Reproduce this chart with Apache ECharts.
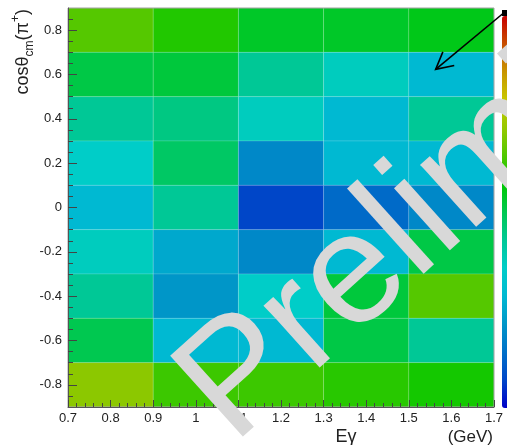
<!DOCTYPE html>
<html>
<head>
<meta charset="utf-8">
<script src="https://cdn.jsdelivr.net/npm/echarts@6/dist/echarts.min.js"></script>
<style>
  html, body { margin: 0; padding: 0; background: #ffffff; }
  #chart { width: 507px; height: 445px; }
</style>
</head>
<body>
<div id="chart"></div>
<script>
// Photon energy bin centres (GeV) and bin width
const eBins = [0.8, 1.0, 1.2, 1.4, 1.6];
const eBinWidth = 0.2;

// cos(theta_cm) bin centres, top row first, and bin width
const cosBins = [0.8, 0.6, 0.4, 0.2, 0.0, -0.2, -0.4, -0.6, -0.8];
const cosBinWidth = 0.2;

// Cell contents, one row per cosBins entry, one value per eBins entry
const row_p08 = [0.648, 0.601, 0.536, 0.536, 0.550];
const row_p06 = [0.509, 0.518, 0.429, 0.371, 0.286];
const row_p04 = [0.429, 0.449, 0.371, 0.286, 0.429];
const row_p02 = [0.357, 0.480, 0.188, 0.286, 0.286];
const row_000 = [0.286, 0.429, 0.071, 0.132, 0.188];
const row_m02 = [0.371, 0.251, 0.188, 0.286, 0.509];
const row_m04 = [0.429, 0.214, 0.357, 0.518, 0.648];
const row_m06 = [0.500, 0.286, 0.286, 0.509, 0.429];
const row_m08 = [0.704, 0.625, 0.625, 0.607, 0.589];
const rows = [row_p08, row_p06, row_p04, row_p02, row_000, row_m02, row_m04, row_m06, row_m08];

// Axis ranges and tick positions
const eRange = [0.7, 1.7];
const eTickStep = 0.1;
const cosRange = [-0.9, 0.9];
const cosMajorTicks = [-0.8, -0.6, -0.4, -0.2, 0, 0.2, 0.4, 0.6, 0.8];
const cosMinorTicks = [-0.85, -0.75, -0.7, -0.65, -0.55, -0.5, -0.45, -0.35, -0.3, -0.25,
                       -0.15, -0.1, -0.05, 0.05, 0.1, 0.15, 0.25, 0.3, 0.35,
                       0.45, 0.5, 0.55, 0.65, 0.7, 0.75, 0.85];

// Colour scale range
const zMin = 0, zMax = 1;

// Rainbow palette of the colour bar, low to high
const palette = ['#0000c8', '#0046c8', '#0070c8', '#0096c8', '#00b9d2', '#00cdc8', '#00c896',
                 '#00c850', '#00c800', '#50c800', '#96c800', '#c8c800', '#c89600', '#c85000', '#c80000'];

// Cell the arrow points at (GeV, cos theta)
const arrowTip = [1.563, 0.623];

const cells = [];
rows.forEach((vals, r) => {
  vals.forEach((v, c) => cells.push([eBins[c], cosBins[r], v]));
});

const chart = echarts.init(document.getElementById('chart'), null, { renderer: 'canvas' });
const FONT = 'Liberation Sans, Arial, Helvetica, sans-serif';
const TICK = { color: '#444', width: 1 };

chart.setOption({
  backgroundColor: '#ffffff',
  animation: false,
  grid: {
    left: 68, top: 8, width: 426, height: 399, z: 10,
    show: true, borderColor: '#a0a0a0', borderWidth: 1, backgroundColor: 'transparent'
  },
  xAxis: {
    type: 'value', min: eRange[0], max: eRange[1], interval: eTickStep, z: 10,
    axisLine: { show: true, onZero: false, lineStyle: { color: '#555', width: 1 } },
    axisTick: { show: true, inside: true, length: 7, lineStyle: TICK },
    minorTick: { show: true, splitNumber: 5, length: 4, lineStyle: TICK },
    axisLabel: { fontFamily: FONT, fontSize: 13, color: '#222', margin: 5 },
    splitLine: { show: false }
  },
  yAxis: [
    {
      type: 'value', min: cosRange[0], max: cosRange[1], z: 10,
      axisLine: { show: true, onZero: false, lineStyle: { color: '#555', width: 1 } },
      axisTick: { show: true, inside: true, length: 9, lineStyle: TICK, customValues: cosMajorTicks },
      axisLabel: { fontFamily: FONT, fontSize: 13, color: '#222', margin: 6, customValues: cosMajorTicks },
      splitLine: { show: false }
    },
    {
      type: 'value', min: cosRange[0], max: cosRange[1], position: 'left', z: 10,
      axisLine: { show: false, onZero: false },
      axisTick: { show: true, inside: true, length: 5, lineStyle: TICK, customValues: cosMinorTicks },
      axisLabel: { show: false },
      splitLine: { show: false }
    }
  ],
  visualMap: {
    type: 'continuous', min: zMin, max: zMax, dimension: 2, seriesIndex: 0,
    calculable: false, hoverLink: false, realtime: false,
    left: 502, top: 16, itemWidth: 20, itemHeight: 392, padding: 0,
    text: null, showLabel: false,
    inRange: { color: palette }
  },
  series: [{
    type: 'custom',
    coordinateSystem: 'cartesian2d',
    xAxisIndex: 0, yAxisIndex: 0,
    encode: { x: 0, y: 1 },
    clip: true,
    z: 2,
    data: cells,
    renderItem(params, api) {
      const x = api.value(0), y = api.value(1);
      const p0 = api.coord([x - eBinWidth / 2, y + cosBinWidth / 2]);
      const p1 = api.coord([x + eBinWidth / 2, y - cosBinWidth / 2]);
      return {
        type: 'rect',
        shape: { x: p0[0], y: p0[1], width: p1[0] - p0[0], height: p1[1] - p0[1] },
        style: { fill: api.visual('color'), stroke: 'rgba(255,255,255,0.14)', lineWidth: 1 }
      };
    }
  }]
});

// Annotations: titles, overflow box, arrow and watermark
const tip = chart.convertToPixel({ gridIndex: 0 }, arrowTip);
const tail = [506, 11];
const dx = tail[0] - tip[0], dy = tail[1] - tip[1];
const ang = Math.atan2(dy, dx);
const headLen = 19, headHalf = 28 * Math.PI / 180;
const arm1 = [tip[0] + headLen * Math.cos(ang - headHalf), tip[1] + headLen * Math.sin(ang - headHalf)];
const arm2 = [tip[0] + headLen * Math.cos(ang + headHalf), tip[1] + headLen * Math.sin(ang + headHalf)];

chart.setOption({
  graphic: [
    { type: 'rect', shape: { x: 502, y: 10, width: 10, height: 6 }, style: { fill: '#000' }, z: 50 },
    {
      type: 'text', x: 346, y: 437, z: 60,
      style: { text: 'Eγ', fontFamily: FONT, fontSize: 18, fill: '#222', align: 'center', verticalAlign: 'middle' }
    },
    {
      type: 'text', x: 493, y: 437, z: 60,
      style: { text: '(GeV)', fontFamily: FONT, fontSize: 17, fill: '#222', align: 'right', verticalAlign: 'middle' }
    },
    {
      type: 'text', x: 23, y: 9, rotation: Math.PI / 2, z: 60,
      style: {
        text: '{n|cosθ}{sub|cm}{n|(π}{sup|+}{n|)}',
        align: 'right', verticalAlign: 'middle',
        rich: {
          n: { fontFamily: FONT, fontSize: 18, fill: '#222', lineHeight: 26 },
          sub: { fontFamily: FONT, fontSize: 12, fill: '#222', lineHeight: 12, verticalAlign: 'bottom' },
          sup: { fontFamily: FONT, fontSize: 12, fill: '#222', lineHeight: 12, verticalAlign: 'top' }
        }
      }
    },
    {
      type: 'text', x: 204, y: 413, rotation: 42 * Math.PI / 180, z: 80,
      style: { text: 'Preliminary', fontFamily: FONT, fontSize: 158, fill: '#d8d8d8',
               align: 'left', verticalAlign: 'middle' }
    },
    {
      type: 'polyline', z: 90,
      shape: { points: [tail, tip] },
      style: { stroke: '#000', lineWidth: 1.6, fill: null }
    },
    {
      type: 'polyline', z: 90,
      shape: { points: [arm1, tip, arm2] },
      style: { stroke: '#000', lineWidth: 1.6, fill: null }
    }
  ]
});
</script>
</body>
</html>
